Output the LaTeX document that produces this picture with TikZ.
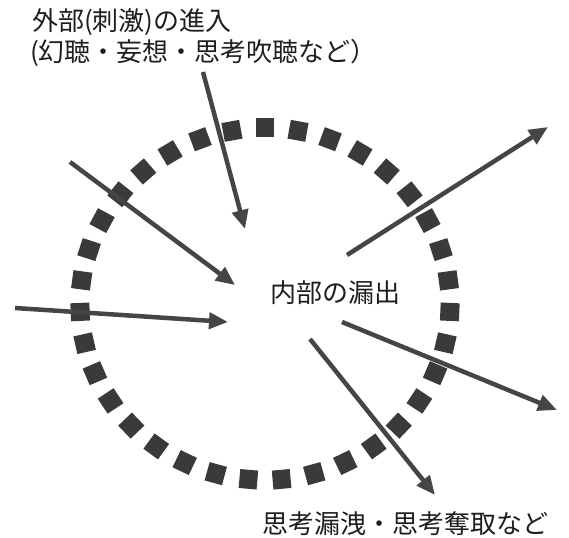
\documentclass[tikz,border=0pt]{standalone}
\usepackage{fontspec}
\newfontfamily\jp{Noto Sans CJK JP}
\usetikzlibrary{arrows.meta}
\definecolor{sq}{HTML}{3A3A3A}
\definecolor{ar}{HTML}{454545}
\definecolor{tx}{HTML}{1E1E1E}
\tikzset{
  lbl/.style={anchor=base west, inner sep=0pt, text=tx, font=\jp\fontsize{26}{30}\selectfont},
  arr/.style={draw=ar, line width=4.5pt, -{Triangle[length=19pt,width=16pt]}},
  sqr/.style={fill=sq}
}
\begin{document}
\begin{tikzpicture}[x=1pt,y=-1pt]
\useasboundingbox (0,0) rectangle (569,537);
% dashed ring made of squares
\foreach \k in {0,...,34}{
  \pgfmathsetmacro{\a}{90+\k*360/35}
  \fill[sqr, shift={({265+185*cos(\a)},{304-176*sin(\a)})}, rotate=\a] (-9.5,-9) rectangle (9.5,9);
}
% texts
\node[lbl] (t1) at (32,31) {外部(刺激)の進入};
\node[lbl] (t2) at (30,61.5) {(幻聴・妄想・思考吹聴など）};
\node[lbl] (c) at (270,302.5) {内部の漏出};
\node[lbl] (b) at (262,533) {思考漏洩・思考奪取など};
% arrow end points
\coordinate (a1s) at (203,72);  \coordinate (a1e) at (245,229);
\coordinate (a2s) at (70,162);  \coordinate (a2e) at (235,285);
\coordinate (a3s) at (15,308);  \coordinate (a3e) at (228,322);
\coordinate (a4s) at (347,255); \coordinate (a4e) at (548,127);
\coordinate (a5s) at (342,322); \coordinate (a5e) at (557,410);
\coordinate (a6s) at (310,339); \coordinate (a6e) at (435,495);
\draw[arr] (a1s) -- (a1e);
\draw[arr] (a2s) -- (a2e);
\draw[arr] (a3s) -- (a3e);
\draw[arr] (a4s) -- (a4e);
\draw[arr] (a5s) -- (a5e);
\draw[arr] (a6s) -- (a6e);
\end{tikzpicture}
\end{document}
